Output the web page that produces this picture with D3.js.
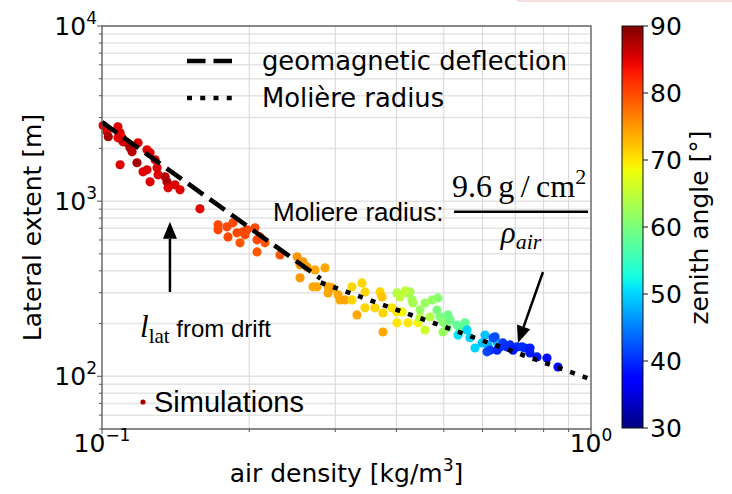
<!DOCTYPE html>
<html>
<head>
<meta charset="utf-8">
<script src="https://cdn.jsdelivr.net/npm/d3@7"></script>
<style>
  body { margin: 0; background: #fff; }
  svg { display: block; }
</style>
</head>
<body>
<script>
// Simulated showers: air density at shower max, lateral extent, zenith angle
var rho = [0.1005, 0.1024, 0.1030, 0.1078, 0.1089, 0.1099, 0.1078, 0.1125, 0.1104, 0.1141,
           0.1152, 0.1185, 0.1236, 0.1254, 0.1089, 0.1179, 0.1213, 0.1236, 0.1254, 0.1284,
           0.1296, 0.1302, 0.1346, 0.1358, 0.1365, 0.1410, 0.1444, 0.1586,
           0.1727, 0.1727, 0.1801, 0.1810, 0.1853, 0.1888, 0.1915, 0.1942, 0.1979, 0.2055,
           0.2075, 0.2075, 0.2154, 0.2104, 0.1961, 0.2312,
           0.2506, 0.2541, 0.2625, 0.2541, 0.2726, 0.2752, 0.2858, 0.2899, 0.2899, 0.3038,
           0.3067, 0.3140, 0.2954, 0.2576, 0.2701,
           0.3245, 0.3401, 0.3450, 0.3245, 0.3322, 0.3450, 0.3616, 0.3703, 0.3738, 0.3755, 0.3755,
           0.4010, 0.4224, 0.4427, 0.3917, 0.4010, 0.4106,
           0.4010, 0.4067, 0.4264, 0.4304, 0.4224, 0.4325, 0.4469, 0.4575, 0.4469, 0.4575, 0.4686,
           0.4166, 0.4730, 0.4865,
           0.4842, 0.4911, 0.5100, 0.4981, 0.5076, 0.5149, 0.5321, 0.4981, 0.5524, 0.5396,
           0.5346, 0.5577, 0.5656, 0.5791, 0.5985, 0.6070, 0.6157, 0.6424,
           0.6128, 0.6215, 0.6304, 0.6424, 0.6516, 0.6607, 0.6829, 0.7058, 0.7226, 0.7328,
           0.7504, 0.7504, 0.7755, 0.8128, 0.8561, 0.6733, 0.6926, 0.6364];

var lateral = [2700, 2489, 2331, 2659, 2457, 2300, 2300, 2153, 2181, 2017,
               1913, 2153, 1964, 1888, 1613, 1656, 1471, 1510, 1289, 1721,
               1550, 1414, 1377, 1289, 1191, 1240, 1160, 904,
               732, 686, 713, 625, 752, 659, 578, 668, 686, 704,
               601, 513, 578, 625, 642, 493,
               481, 433, 421, 365, 405, 324, 416, 324, 299, 292,
               273, 273, 320, 450, 324,
               324, 341, 303, 273, 224, 246, 246, 303, 284, 230, 179,
               202, 202, 202, 246, 233, 233,
               299, 284, 303, 273, 299, 262, 239, 262, 215, 184, 218,
               307, 273, 280,
               239, 218, 224, 204, 189, 210, 196, 179, 202, 184,
               172, 184, 166, 145, 155, 172, 151, 157,
               138, 141, 166, 141, 147, 155, 151, 147, 147, 145,
               145, 136, 129, 127, 113, 147, 141, 168];

var zenith = [85, 85, 88, 85, 85, 84, 85, 85, 86, 88,
              87, 85, 85, 85, 85, 88, 85, 85, 85, 85,
              85, 85, 87, 88, 85, 85, 85, 85,
              80, 80, 80, 80, 80, 80, 79, 80, 80, 80,
              80, 79, 79, 80, 80, 79,
              75, 75, 75, 75, 74, 74, 74, 74, 74, 74,
              74, 74, 74, 75, 74,
              71, 71, 71, 71, 74, 71, 71, 71, 72, 71, 74,
              70, 70, 69, 70, 70, 69,
              64, 65, 63, 63, 63, 63, 62, 62, 65, 66, 64,
              65, 62, 61,
              60, 60, 59, 61, 60, 59, 58, 62, 58, 58,
              51, 50, 50, 50, 49, 49, 48, 48,
              42, 41, 42, 40, 40, 41, 40, 40, 40, 40,
              39, 39, 39, 38, 38, 40, 39, 42];

// Model curves (power laws, straight in log-log)
var geoRho = [0.1, 0.28], geoLat = [2830, 361];      // geomagnetic deflection
var molRho = [0.28, 1.0], molLat = [343, 96];        // Moliere radius 9.6 g/cm2 / rho

// Ticks
var xTicks = [0.1, 1], xTickExp = ["\u22121", "0"];
var xMinor = [0.2, 0.3, 0.4, 0.5, 0.6, 0.7, 0.8, 0.9];
var yTicks = [100, 1000, 10000], yTickExp = ["2", "3", "4"];
var yMinor = [50, 60, 70, 80, 90, 200, 300, 400, 500, 600, 700, 800, 900,
              2000, 3000, 4000, 5000, 6000, 7000, 8000, 9000];
var zTicks = [30, 40, 50, 60, 70, 80, 90];

var W = 732, H = 494;
var pLeft = 102, pRight = 591, pTop = 26, pBottom = 429;
var sans = "DejaVu Sans", arial = "Liberation Sans", serif = "Liberation Serif";

var svg = d3.select("body").append("svg")
    .attr("width", W).attr("height", H)
    .style("font-family", sans);

// faint strip at the top right of the original crop
svg.append("rect").attr("x", 517).attr("y", 0).attr("width", W - 517).attr("height", 2)
    .attr("fill", "#f6dede");

var x = d3.scaleLog().domain([0.1, 1]).range([pLeft, pRight]);
var y = d3.scaleLog().domain([50, 10000]).range([pBottom, pTop]);

// jet colormap
var jr = d3.scaleLinear().domain([0, 0.35, 0.66, 0.89, 1]).range([0, 0, 1, 1, 0.5]).clamp(true);
var jg = d3.scaleLinear().domain([0, 0.125, 0.375, 0.64, 0.91, 1]).range([0, 0, 1, 1, 0, 0]).clamp(true);
var jb = d3.scaleLinear().domain([0, 0.11, 0.34, 0.65, 1]).range([0.5, 1, 1, 0, 0]).clamp(true);
function jet(t) { return d3.rgb(255 * jr(t), 255 * jg(t), 255 * jb(t)).toString(); }
var zNorm = d3.scaleLinear().domain([30, 90]).range([0, 1]);
function color(z) { return jet(zNorm(z)); }

// Grid
var grid = svg.append("g");
grid.selectAll("line.hg").data(yMinor.concat(yTicks)).enter().append("line")
    .attr("x1", pLeft).attr("x2", pRight)
    .attr("y1", function(d) { return y(d); }).attr("y2", function(d) { return y(d); })
    .attr("stroke", "#e4e4e4").attr("stroke-width", 1.5);
grid.selectAll("line.vg").data(xMinor).enter().append("line")
    .attr("y1", pTop).attr("y2", pBottom)
    .attr("x1", function(d) { return x(d); }).attr("x2", function(d) { return x(d); })
    .attr("stroke", "#d6d6d6").attr("stroke-width", 1);

// Scatter
var pts = rho.map(function(r, i) { return {r: r, l: lateral[i], z: zenith[i]}; });
svg.append("g").selectAll("circle").data(pts).enter().append("circle")
    .attr("cx", function(d) { return x(d.r); })
    .attr("cy", function(d) { return y(d.l); })
    .attr("r", 4.6)
    .attr("fill", function(d) { return color(d.z); });

// Model lines
var line = d3.line().x(function(d) { return x(d[0]); }).y(function(d) { return y(d[1]); });
svg.append("path").datum(geoRho.map(function(r, i) { return [r, geoLat[i]]; }))
    .attr("d", line).attr("fill", "none").attr("stroke", "#000")
    .attr("stroke-width", 4.6).attr("stroke-dasharray", "18.5,8");
svg.append("path").datum(molRho.map(function(r, i) { return [r, molLat[i]]; }))
    .attr("d", line).attr("fill", "none").attr("stroke", "#000")
    .attr("stroke-width", 4.6).attr("stroke-dasharray", "5,8.25");

// Frame
svg.append("rect").attr("x", pLeft).attr("y", pTop)
    .attr("width", pRight - pLeft).attr("height", pBottom - pTop)
    .attr("fill", "none").attr("stroke", "#555").attr("stroke-width", 1.3);

// Axis ticks
var ax = svg.append("g").attr("stroke", "#555").attr("stroke-width", 1);
ax.selectAll("line.xt").data(xTicks.concat(xMinor)).enter().append("line")
    .attr("x1", function(d) { return x(d); }).attr("x2", function(d) { return x(d); })
    .attr("y1", pBottom).attr("y2", function(d) { return pBottom + (xTicks.indexOf(d) >= 0 ? 5 : 3); });
ax.selectAll("line.yt").data(yTicks.concat(yMinor)).enter().append("line")
    .attr("y1", function(d) { return y(d); }).attr("y2", function(d) { return y(d); })
    .attr("x1", pLeft).attr("x2", function(d) { return pLeft - (yTicks.indexOf(d) >= 0 ? 5 : 3); });

// Tick labels
var xl = svg.selectAll("text.xtl").data(xTicks).enter().append("text")
    .attr("x", function(d) { return x(d); }).attr("y", 452)
    .attr("text-anchor", "middle").attr("font-size", 25);
xl.append("tspan").text("10");
xl.append("tspan").attr("font-size", 17).attr("dy", -11).text(function(d, i) { return xTickExp[i]; });

var yl = svg.selectAll("text.ytl").data(yTicks).enter().append("text")
    .attr("x", 97).attr("y", function(d) { return y(d) + 9; })
    .attr("text-anchor", "end").attr("font-size", 25);
yl.append("tspan").text("10");
yl.append("tspan").attr("font-size", 17).attr("dy", -11).text(function(d, i) { return yTickExp[i]; });

// Axis labels
var xlab = svg.append("text").attr("x", (pLeft + pRight) / 2).attr("y", 482)
    .attr("text-anchor", "middle").attr("font-size", 25);
xlab.append("tspan").text("air density [kg/m");
xlab.append("tspan").attr("font-size", 17).attr("dy", -11).text("3");
xlab.append("tspan").attr("dy", 11).text("]");

svg.append("text").attr("transform", "translate(41," + ((pTop + pBottom) / 2) + ") rotate(-90)")
    .attr("text-anchor", "middle").attr("font-size", 25).text("Lateral extent [m]");

// Legend
var legend = [
  {label: "geomagnetic deflection", dash: "18.5,8", yy: 61},
  {label: "Moli\u00e8re radius", dash: "5,8.25", yy: 98}
];
var lg = svg.append("g").selectAll("g").data(legend).enter().append("g");
lg.append("line").attr("x1", 187).attr("x2", 233)
    .attr("y1", function(d) { return d.yy; }).attr("y2", function(d) { return d.yy; })
    .attr("stroke", "#000").attr("stroke-width", 4.6)
    .attr("stroke-dasharray", function(d) { return d.dash; });
lg.append("text").attr("x", 262).attr("y", function(d) { return d.yy + 9; })
    .attr("font-size", 25.8).text(function(d) { return d.label; });

// Annotations
function arrow(from, to) {
  var x0 = x(from[0]), y0 = y(from[1]), x1 = x(to[0]), y1 = y(to[1]);
  var a = Math.atan2(y1 - y0, x1 - x0), hl = 17, hw = 7;
  var bx = x1 - hl * Math.cos(a), by = y1 - hl * Math.sin(a);
  svg.append("line").attr("x1", x0).attr("y1", y0).attr("x2", bx).attr("y2", by)
      .attr("stroke", "#000").attr("stroke-width", 2.5);
  svg.append("path")
      .attr("d", "M" + x1 + "," + y1 +
                 "L" + (bx + hw * Math.sin(a)) + "," + (by - hw * Math.cos(a)) +
                 "L" + (bx - hw * Math.sin(a)) + "," + (by + hw * Math.cos(a)) + "Z")
      .attr("fill", "#000");
}
arrow([0.1377, 303], [0.1377, 762]);
arrow([0.7975, 394], [0.709, 155]);

var dr = svg.append("text").attr("x", x(0.1196)).attr("y", y(168));
dr.append("tspan").attr("font-family", serif).attr("font-style", "italic").attr("font-size", 31).text("l");
dr.append("tspan").attr("font-family", serif).attr("font-size", 21).attr("dy", 6).text("lat");
dr.append("tspan").attr("font-family", arial).attr("font-size", 24).attr("dy", -6).text(" from drift");

svg.append("text").attr("x", x(0.2237)).attr("y", y(772))
    .attr("font-family", arial).attr("font-size", 26).text("Moliere radius:");

var fx = x(0.7193), fy = y(869);
svg.append("line").attr("x1", fx - 67).attr("x2", fx + 67).attr("y1", fy).attr("y2", fy)
    .attr("stroke", "#000").attr("stroke-width", 2.6);
var num = svg.append("text").attr("x", fx - 2).attr("y", fy - 15)
    .attr("text-anchor", "middle").attr("font-family", serif).attr("font-size", 32);
num.append("tspan").text("9.6\u2009g\u2009/\u2009cm");
num.append("tspan").attr("font-size", 22).attr("dy", -13).text("2");
var den = svg.append("text").attr("x", fx).attr("y", fy + 31)
    .attr("text-anchor", "middle").attr("font-family", serif).attr("font-style", "italic").attr("font-size", 31);
den.append("tspan").text("\u03c1");
den.append("tspan").attr("font-size", 22).attr("dy", 6).text("air");

svg.append("circle").attr("cx", x(0.1213)).attr("cy", y(71.3)).attr("r", 2.6).attr("fill", color(88));
svg.append("text").attr("x", x(0.1213) + 11).attr("y", y(71.3) + 10)
    .attr("font-family", arial).attr("font-size", 29).text("Simulations");

// Colorbar
var cbX = 622, cbW = 21;
var yz = d3.scaleLinear().domain([30, 90]).range([428, 26]);
var grad = svg.append("defs").append("linearGradient").attr("id", "jet")
    .attr("x1", 0).attr("y1", 1).attr("x2", 0).attr("y2", 0);
grad.selectAll("stop").data(d3.range(0, 1.0001, 0.02)).enter().append("stop")
    .attr("offset", function(d) { return d; })
    .attr("stop-color", function(d) { return jet(d); });
svg.append("rect").attr("x", cbX).attr("y", yz(90)).attr("width", cbW).attr("height", yz(30) - yz(90))
    .attr("fill", "url(#jet)").attr("stroke", "#111").attr("stroke-width", 1);
svg.selectAll("line.zt").data(zTicks).enter().append("line")
    .attr("x1", cbX + cbW).attr("x2", cbX + cbW + 5)
    .attr("y1", function(d) { return yz(d); }).attr("y2", function(d) { return yz(d); })
    .attr("stroke", "#111");
svg.selectAll("text.ztl").data(zTicks).enter().append("text")
    .attr("x", 650).attr("y", function(d) { return yz(d) + 9; })
    .attr("font-size", 25).text(function(d) { return d; });
svg.append("text").attr("transform", "translate(708," + ((pTop + pBottom) / 2) + ") rotate(-90)")
    .attr("text-anchor", "middle").attr("font-size", 25).text("zenith angle [\u00b0]");
</script>
</body>
</html>
